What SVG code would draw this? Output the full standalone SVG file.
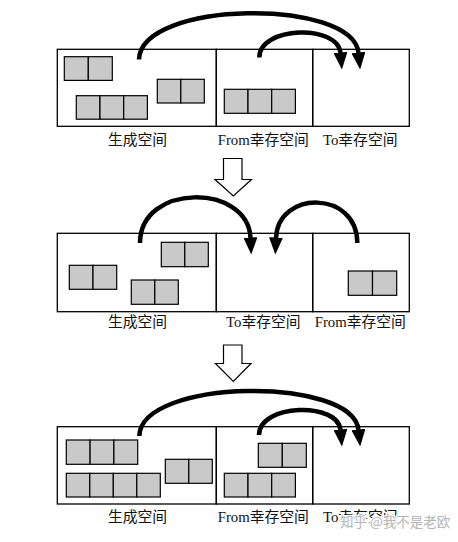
<svg xmlns="http://www.w3.org/2000/svg" width="458" height="542" viewBox="0 0 458 542">
<style>
.bg{fill:#ffffff}
.box{fill:none;stroke:#000;stroke-width:1.3}
.c{fill:#c9c9c9;stroke:#000;stroke-width:1.2}
.arc{fill:none;stroke:#000;stroke-width:4.5;marker-end:url(#ah)}
.hollow{fill:#fff;stroke:#000;stroke-width:1.2;stroke-linejoin:miter}
.lbl{font-family:"Liberation Serif","Noto Sans CJK SC",serif;font-size:14.8px;fill:#111;text-anchor:middle}
.wm{font-family:"Noto Sans CJK SC",sans-serif;font-size:13.5px;fill:#b5b5b5;stroke:#fff;stroke-width:2.5;paint-order:stroke;stroke-linejoin:round}
</style>
<defs>
<marker id="ah" markerUnits="userSpaceOnUse" viewBox="0 0 17 14" markerWidth="17" markerHeight="14" refX="0.5" refY="7" orient="auto">
<path d="M0,0 L17,7 L0,14 Z" fill="#000"/>
</marker>
</defs>
<rect class="bg" x="0" y="0" width="458" height="542"/>

<!-- Panel 1 -->
<g id="panel1">
<g id="p1-eden">
<rect class="box" x="57.3" y="49.3" width="159" height="77"/>
<rect class="c" x="64.3" y="56.7" width="24" height="23.7"/><rect class="c" x="88.3" y="56.7" width="24" height="23.7"/>
<rect class="c" x="76.3" y="95.7" width="23.7" height="23.5"/><rect class="c" x="100" y="95.7" width="23.7" height="23.5"/><rect class="c" x="123.7" y="95.7" width="23.7" height="23.5"/>
<rect class="c" x="157.3" y="79.3" width="23.5" height="23.7"/><rect class="c" x="180.8" y="79.3" width="23.5" height="23.7"/>
<text class="lbl" x="137.5" y="144.5">生成空间</text>
</g>
<g id="p1-from">
<rect class="box" x="216.3" y="49.3" width="96.4" height="77"/>
<rect class="c" x="224.3" y="89.3" width="23.7" height="24"/><rect class="c" x="248" y="89.3" width="23.7" height="24"/><rect class="c" x="271.7" y="89.3" width="23.7" height="24"/>
<text class="lbl" x="263.3" y="144.5">From幸存空间</text>
</g>
<g id="p1-to">
<rect class="box" x="312.7" y="49.3" width="96.6" height="77"/>
<text class="lbl" x="360.2" y="144.5">To幸存空间</text>
</g>
</g>

<!-- Panel 2 -->
<g id="panel2">
<g id="p2-eden">
<rect class="box" x="57.3" y="233.3" width="159" height="78.4"/>
<rect class="c" x="69.3" y="265.3" width="23.7" height="24"/><rect class="c" x="93" y="265.3" width="23.7" height="24"/>
<rect class="c" x="161.3" y="242.3" width="23.5" height="24.4"/><rect class="c" x="184.8" y="242.3" width="23.5" height="24.4"/>
<rect class="c" x="131.3" y="280" width="23.5" height="24.3"/><rect class="c" x="154.8" y="280" width="23.5" height="24.3"/>
<text class="lbl" x="137.5" y="327.3">生成空间</text>
</g>
<g id="p2-to">
<rect class="box" x="216.3" y="233.3" width="96.4" height="78.4"/>
<text class="lbl" x="263.3" y="327.3">To幸存空间</text>
</g>
<g id="p2-from">
<rect class="box" x="312.7" y="233.3" width="96.6" height="78.4"/>
<rect class="c" x="348.3" y="271" width="24.2" height="24.3"/><rect class="c" x="372.5" y="271" width="24.2" height="24.3"/>
<text class="lbl" x="360.3" y="327.3">From幸存空间</text>
</g>
</g>

<!-- Panel 3 -->
<g id="panel3">
<g id="p3-eden">
<rect class="box" x="57.3" y="426.7" width="159" height="77.3"/>
<rect class="c" x="66.3" y="440" width="23.8" height="24.3"/><rect class="c" x="90.1" y="440" width="23.8" height="24.3"/><rect class="c" x="113.9" y="440" width="23.8" height="24.3"/>
<rect class="c" x="66.3" y="473.3" width="23.5" height="23.7"/><rect class="c" x="89.8" y="473.3" width="23.5" height="23.7"/><rect class="c" x="113.3" y="473.3" width="23.5" height="23.7"/><rect class="c" x="136.8" y="473.3" width="23.5" height="23.7"/>
<rect class="c" x="165.3" y="459.3" width="23.5" height="24"/><rect class="c" x="188.8" y="459.3" width="23.5" height="24"/>
<text class="lbl" x="137.5" y="521.5">生成空间</text>
</g>
<g id="p3-from">
<rect class="box" x="216.3" y="426.7" width="96.4" height="77.3"/>
<rect class="c" x="258.3" y="443.3" width="24" height="24"/><rect class="c" x="282.3" y="443.3" width="24" height="24"/>
<rect class="c" x="224.3" y="473.3" width="23.7" height="23.7"/><rect class="c" x="248" y="473.3" width="23.7" height="23.7"/><rect class="c" x="271.7" y="473.3" width="23.7" height="23.7"/>
<text class="lbl" x="263.3" y="521.5">From幸存空间</text>
</g>
<g id="p3-to">
<rect class="box" x="312.7" y="426.7" width="96.6" height="77.3"/>
<text class="lbl" x="360.2" y="521.5">To幸存空间</text>
</g>
</g>

<!-- Connectors -->
<g id="connectors">
<path class="arc" d="M139,59.5 C141,0 353,-2 358.5,53"/>
<path class="arc" d="M259.3,57.5 C259.3,26 338,24 340.5,53"/>
<polygon class="hollow" points="223.5,158.5 242,158.5 242,179.5 251.5,179.5 233.3,196 215,179.5 223.5,179.5"/>
<path class="arc" d="M140,243 C140,183 248,183 250.5,238"/>
<path class="arc" d="M357.3,243 C357.3,190 278,190 276,238"/>
<polygon class="hollow" points="223.5,345 242,345 242,363.5 251,363.5 233.3,381.5 215.5,363.5 223.5,363.5"/>
<path class="arc" d="M139.3,436 C141,378 353,376 358.5,430"/>
<path class="arc" d="M259,435 C259,403.5 338,401.5 340.5,430"/>
</g>

<text class="wm" x="340" y="526.5">知乎 @我不是老欧</text>
</svg>
